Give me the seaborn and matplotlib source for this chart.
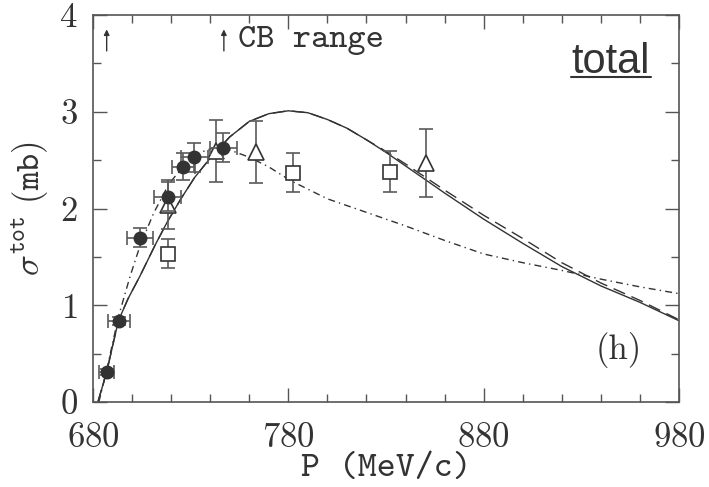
import matplotlib
matplotlib.use("Agg")
import matplotlib.pyplot as plt
import seaborn as sns
import pandas as pd
from matplotlib.lines import Line2D

# ---- data ----
circ_p = [687.0, 693.3, 704.0, 718.2, 726.2, 731.9, 746.7]
circ_s = [0.31, 0.84, 1.70, 2.12, 2.43, 2.53, 2.63]
circ_dp = [4.0, 5.5, 6.5, 7.0, 6.0, 7.0, 7.0]
circ_ds = [0.03, 0.04, 0.10, 0.15, 0.14, 0.15, 0.15]

tri_p = [718.2, 742.8, 763.5, 850.3]
tri_s = [2.04, 2.59, 2.58, 2.47]
tri_ds = [0.25, 0.32, 0.32, 0.35]

sq_p = [718.2, 782.4, 832.0]
sq_s = [1.53, 2.37, 2.38]
sq_ds = [0.15, 0.20, 0.21]

solid_p = [682.5, 687, 693, 698, 704, 712, 718, 725, 732, 740, 750, 760, 770,
           780, 790, 800, 810, 820, 830, 840, 860, 880, 900, 920, 940, 960, 980]
solid_s = [0.0, 0.31, 0.84, 1.07, 1.30, 1.63, 1.86, 2.10, 2.32, 2.52, 2.74, 2.90, 2.98,
           3.01, 2.99, 2.92, 2.83, 2.71, 2.58, 2.44, 2.16, 1.89, 1.64, 1.40, 1.20, 1.03, 0.84]

dash_p = [682.5, 687, 693, 698, 704, 712, 718, 725, 732, 740, 750, 760, 770,
          780, 790, 800, 810, 820, 830, 840, 860, 880, 900, 920, 940, 960, 980]
dash_s = [0.0, 0.31, 0.84, 1.07, 1.30, 1.63, 1.86, 2.10, 2.32, 2.52, 2.74, 2.90, 2.98,
          3.01, 2.99, 2.92, 2.83, 2.71, 2.59, 2.46, 2.19, 1.93, 1.69, 1.44, 1.23, 1.05, 0.85]

dd_p = [683, 687, 693, 699, 704, 711, 719, 727, 735, 745, 752, 760, 770, 781, 790,
        800, 820, 840, 860, 880, 900, 920, 940, 960, 980]
dd_s = [0.0, 0.33, 0.88, 1.30, 1.61, 1.95, 2.26, 2.45, 2.58, 2.65, 2.59, 2.53, 2.43, 2.29, 2.20,
        2.10, 1.96, 1.82, 1.67, 1.53, 1.44, 1.36, 1.27, 1.19, 1.12]

x_ticks = [680, 780, 880, 980]
y_ticks = [0, 1, 2, 3, 4]

# ---- style ----
sns.set_style("ticks")
plt.rcParams["mathtext.fontset"] = "cm"
plt.rcParams["font.family"] = ["cmr10", "DejaVu Serif"]
plt.rcParams["axes.formatter.use_mathtext"] = True
INK = "#333333"
FRAME = "#555555"

fig = plt.figure(figsize=(7.09, 4.87), dpi=100)
ax = fig.add_axes([93 / 709, 85 / 487, 586 / 709, 387 / 487])

curves = pd.concat([
    pd.DataFrame({"P": solid_p, "s": solid_s, "c": "solid"}),
    pd.DataFrame({"P": dash_p, "s": dash_s, "c": "dash"}),
    pd.DataFrame({"P": dd_p, "s": dd_s, "c": "dashdot"}),
])
sns.lineplot(data=curves, x="P", y="s", hue="c", style="c",
             palette={"solid": INK, "dash": INK, "dashdot": INK},
             dashes={"solid": "", "dash": (9, 5), "dashdot": (5, 3, 1, 3)},
             sort=False, estimator=None, lw=1.0, legend=False, ax=ax)

ekw = dict(ecolor="#5a5a5a", elinewidth=1.2, capsize=5, capthick=1.2, ls="none")
ax.errorbar(sq_p, sq_s, yerr=sq_ds, marker="s", ms=10, mfc="white", mec=INK, mew=1.2, zorder=4, **ekw)
ax.errorbar(tri_p, tri_s, yerr=tri_ds, marker="^", ms=11, mfc="white", mec=INK, mew=1.2, zorder=4, **ekw)
ax.errorbar(circ_p, circ_s, xerr=circ_dp, yerr=circ_ds, marker="o", ms=9, mfc=INK, mec=INK,
            zorder=5, **ekw)

ax.set_xlim(680, 980)
ax.set_ylim(0, 4)
ax.set_xticks(x_ticks)
ax.set_yticks(y_ticks)
ax.set_xticks(range(680, 981, 20), minor=True)
ax.set_yticks([i * 0.5 for i in range(9)], minor=True)
ax.tick_params(which="both", direction="in", top=True, right=True, color=FRAME, width=1.0)
ax.tick_params(which="major", length=10, labelsize=25, labelcolor=INK)
ax.tick_params(which="minor", length=6)
ax.tick_params(axis="x", pad=15)
ax.tick_params(axis="y", pad=11)
for sp in ax.spines.values():
    sp.set_color(FRAME)
    sp.set_linewidth(1.2)

ax.set_xlabel("P (MeV/c)", family="cmtt10", fontsize=26, color=INK, labelpad=0)
ax.set_ylabel(r"$\sigma^{\mathtt{tot}}\ \mathtt{(mb)}$", fontsize=25, color=INK, labelpad=6)

# annotations
for xp in [687, 747]:
    ax.annotate("", xy=(xp, 3.88), xytext=(xp, 3.60),
                arrowprops=dict(arrowstyle="-|>", color=INK, lw=1.0, mutation_scale=8))
ax.text(754, 3.67, "CB range", family="cmtt10", fontsize=25, color=INK, va="baseline", ha="left")
ax.text(949, 0.54, "(h)", fontsize=25, color=INK, ha="center", va="center")
ax.text(0.884, 0.85, "total", transform=ax.transAxes, family="Liberation Sans",
        fontsize=30, color=INK, ha="center", va="baseline")
ax.add_line(Line2D([0.816, 0.952], [0.840, 0.840], transform=ax.transAxes, color=INK, lw=1.5))

fig.savefig("out.png", dpi=100)
